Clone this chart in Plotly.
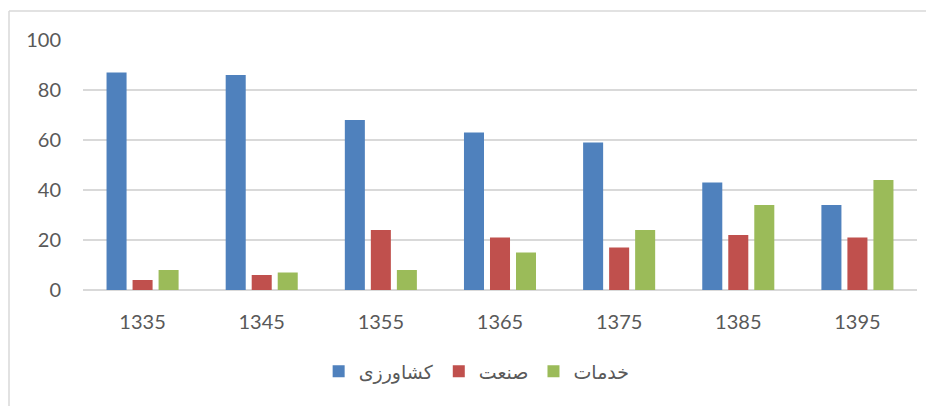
import plotly.graph_objects as go

years = ["1335", "1345", "1355", "1365", "1375", "1385", "1395"]
series_names = ["کشاورزی", "صنعت", "خدمات"]
agri = [87, 86, 68, 63, 59, 43, 34]
industry = [4, 6, 24, 21, 17, 22, 21]
services = [8, 7, 8, 15, 24, 34, 44]
y_ticks = [0, 20, 40, 60, 80, 100]
colors = ["#4f81bd", "#c0504d", "#9bbb59"]

# page body has an 8px margin, so the figure is sized/offset accordingly
W, H = 926, 398
ml, mr, mt, mb = 75, 17, 32, 116

fig = go.Figure()
for name, vals, c in zip(series_names, [agri, industry, services], colors):
    fig.add_trace(go.Bar(x=years, y=vals, name=name, marker=dict(color=c, line=dict(width=0))))

pw = W - ml - mr
ph = H - mt - mb
# chart border (left and top) in paper coords
bx = (1 - ml) / pw
by = 1 + (mt - 3) / ph
fig.add_shape(type="line", xref="paper", yref="paper", x0=bx, x1=bx, y0=by, y1=-(H - mt) / ph - 0.1,
              line=dict(color="#d9d9d9", width=1.5))
fig.add_shape(type="line", xref="paper", yref="paper", x0=bx, x1=(W + 10 - ml) / pw, y0=by, y1=by,
              line=dict(color="#d9d9d9", width=1.5))

fig.update_layout(
    width=W, height=H,
    margin=dict(l=ml, r=mr, t=mt, b=mb),
    paper_bgcolor="white", plot_bgcolor="white",
    barmode="group", bargap=0.345, bargroupgap=0.23,
    font=dict(family="Lato, DejaVu Sans, sans-serif", size=20, color="#595959"),
    showlegend=True,
    legend=dict(orientation="h", x=0.472, xanchor="center", y=-0.25, yanchor="top",
                font=dict(family="DejaVu Sans, sans-serif", size=19, color="#595959"),
                itemwidth=30, traceorder="normal"),
    xaxis=dict(showgrid=False, showline=False, ticks="", tickfont=dict(size=20),
               ticklabelstandoff=18, automargin=False),
    yaxis=dict(range=[0, 100], tickvals=y_ticks, showgrid=True, gridcolor="#d9d9d9", gridwidth=1.5,
               zeroline=True, zerolinecolor="#d9d9d9", zerolinewidth=1.5, ticks="",
               tickfont=dict(size=20), ticklabelstandoff=21, automargin=False),
)

fig.write_html("out.html")
